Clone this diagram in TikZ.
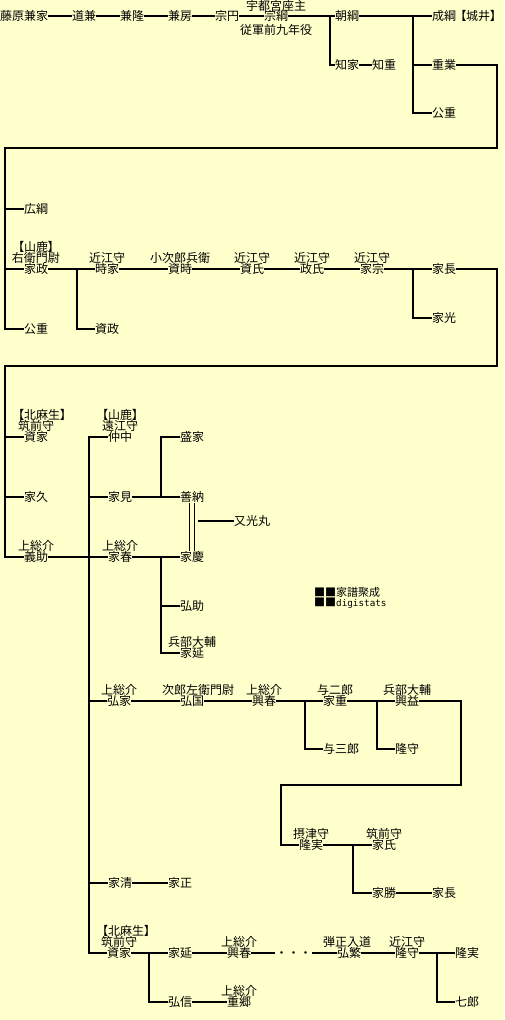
\documentclass[tikz,border=0pt]{standalone}
\usepackage{fontspec}
\newfontfamily\jp{Noto Sans CJK JP}
\newfontfamily\jpp{Noto Sans CJK JP}[RawFeature=+palt]
\newfontfamily\monof{DejaVu Sans Mono}
\definecolor{bgyellow}{HTML}{FFFFCC}
\begin{document}
\begin{tikzpicture}[x=1pt,y=-1pt,
  nm/.style={anchor=west, inner sep=0pt, font=\jp\fontsize{12pt}{12pt}\selectfont, text height=10.56pt, text depth=1.44pt},
  ttl/.style={inner sep=0pt, font=\jp\fontsize{12pt}{12pt}\selectfont, text height=10.56pt, text depth=1.44pt},
  ttlw/.style={ttl, anchor=west},
  brk/.style={ttlw, font=\jpp\fontsize{12pt}{12pt}\selectfont},
  ln/.style={line width=2pt},
  thinln/.style={line width=1pt}]
\useasboundingbox (0,0) rectangle (504,1020);
\fill[bgyellow] (0,0) rectangle (504,1020);

% ---------- row 1
\node[nm] (a1) at (0,16) {藤原兼家};
\node[nm] (a2) at (72,16) {道兼};
\node[nm] (a3) at (120,16) {兼隆};
\node[nm] (a4) at (168,16) {兼房};
\node[nm] (a5) at (215,16) {宗円};
\node[nm] (a6) at (264,16) {宗綱};
\node[ttl] (a6t) at (276,5.5) {宇都宮座主};
\node[ttl] (a6b) at (276,29.5) {従軍前九年役};
\node[nm] (a7) at (335,16) {朝綱};
\node[nm] (a8) at (335,65) {知家};
\node[nm] (a9) at (372,65) {知重};
\node[nm, font=\jpp\fontsize{12pt}{12pt}\selectfont] (a10) at (432,16) {成綱\hspace{4pt}【城井】};
\node[nm] (a11) at (432,65) {重業};
\node[nm] (a12) at (432,113) {公重};

\draw[ln] (a1.east) -- (a2.west);
\draw[ln] (a2.east) -- (a3.west);
\draw[ln] (a3.east) -- (a4.west);
\draw[ln] (a4.east) -- (a5.west);
\draw[ln] (a5.east) -- (a6.west);
\draw[ln] (a6.east) -- (a7.west);
\draw[ln] (a7.east) -- (a10.west);
\coordinate (j1) at (330,16);
\draw[ln] (j1) |- (a8.west);
\draw[ln] (a8.east) -- (a9.west);
\coordinate (j2) at (413,16);
\draw[ln] (j2) |- (a11.west);
\draw[ln] (j2) |- (a12.west);

% ---------- row 2
\node[nm] (b1) at (24,209) {広綱};
\node[nm] (b2) at (24,269) {家政};
\node[ttl] at (36,258) {右衛門尉};
\node[ttl, font=\jpp\fontsize{12pt}{12pt}\selectfont] at (36,247) {【山鹿】};
\node[nm] (b3) at (24,329) {公重};
\node[nm] (b4) at (95,269) {時家};
\node[ttl] at (107,258) {近江守};
\node[nm] (b5) at (95,329) {資政};
\node[nm] (b6) at (168,269) {資時};
\node[ttl] at (180,258) {小次郎兵衛};
\node[nm] (b7) at (240,269) {資氏};
\node[ttl] at (252,258) {近江守};
\node[nm] (b8) at (300,269) {政氏};
\node[ttl] at (312,258) {近江守};
\node[nm] (b9) at (360,269) {家宗};
\node[ttl] at (372,258) {近江守};
\node[nm] (b10) at (432,269) {家長};
\node[nm] (b11) at (432,318) {家光};

\coordinate (r1) at (497,148);
\coordinate (l1) at (5,148);
\draw[ln] (a11.east) -| (r1) -- (l1) |- (b3.west);
\draw[ln] (5,209) -- (b1.west);
\draw[ln] (5,269) -- (b2.west);
\draw[ln] (b2.east) -- (b4.west);
\coordinate (j3) at (77,269);
\draw[ln] (j3) |- (b5.west);
\draw[ln] (b4.east) -- (b6.west);
\draw[ln] (b6.east) -- (b7.west);
\draw[ln] (b7.east) -- (b8.west);
\draw[ln] (b8.east) -- (b9.west);
\draw[ln] (b9.east) -- (b10.west);
\coordinate (j4) at (413,269);
\draw[ln] (j4) |- (b11.west);

% ---------- row 3
\node[nm] (c1) at (24,437) {資家};
\node[ttl] at (36,426) {筑前守};
\node[brk] at (18,415) {【北麻生】};
\node[nm] (c2) at (24,497) {家久};
\node[nm] (c3) at (24,557) {義助};
\node[ttl] at (36,546) {上総介};
\node[nm] (c4) at (108,437) {仲中};
\node[ttl] at (120,426) {遠江守};
\node[brk] at (102,415) {【山鹿】};
\node[nm] (c5) at (108,497) {家見};
\node[nm] (c6) at (108,557) {家春};
\node[ttl] at (120,546) {上総介};
\node[nm] (c7) at (180,437) {盛家};
\node[nm] (c8) at (180,497) {善納};
\node[nm] (c9) at (180,557) {家慶};
\node[nm] (c10) at (234,521) {又光丸};
\node[nm] (c11) at (180,606) {弘助};
\node[nm] (c12) at (180,653) {家延};
\node[ttl] at (192,642) {兵部大輔};

\coordinate (r2) at (497,366);
\coordinate (l2) at (5,366);
\draw[ln] (b10.east) -| (r2) -- (l2) |- (c3.west);
\draw[ln] (5,437) -- (c1.west);
\draw[ln] (5,497) -- (c2.west);
\draw[ln] (c3.east) -- (c6.west);
\draw[ln] (89,497) -- (c5.west);
\draw[ln] (c5.east) -- (c8.west);
\coordinate (j5) at (161,497);
\draw[ln] (j5) |- (c7.west);
\draw[ln] (c6.east) -- (c9.west);
\coordinate (j6) at (161,557);
\draw[ln] (j6) |- (c12.west);
\draw[ln] (161,606) -- (c11.west);
\draw[thinln] ([xshift=-2.5pt]c8.south) -- ([xshift=-2.5pt]c9.north);
\draw[thinln] ([xshift=2.5pt]c8.south) -- ([xshift=2.5pt]c9.north);
\coordinate (m1) at (198,521);
\draw[ln] (m1) -- (c10.west);

% ---------- row d
\node[nm] (d1) at (107,701) {弘家};
\node[ttl] at (119,690) {上総介};
\node[nm] (d2) at (180,701) {弘国};
\node[ttlw] at (162,690) {次郎左衛門尉};
\node[nm] (d3) at (252,701) {興春};
\node[ttl] at (264,690) {上総介};
\node[nm] (d4) at (323,701) {家重};
\node[ttl] at (335,690) {与二郎};
\node[nm] (d5) at (323,749) {与三郎};
\node[nm] (d6) at (395,701) {興益};
\node[ttl] at (407,690) {兵部大輔};
\node[nm] (d7) at (395,749) {隆守};

\draw[ln] (89,701) -- (d1.west);
\draw[ln] (d1.east) -- (d2.west);
\draw[ln] (d2.east) -- (d3.west);
\draw[ln] (d3.east) -- (d4.west);
\draw[ln] (d4.east) -- (d6.west);
\coordinate (j7) at (305,701);
\draw[ln] (j7) |- (d5.west);
\coordinate (j8) at (377,701);
\draw[ln] (j8) |- (d7.west);

% ---------- row g
\node[nm] (g1) at (299,845) {隆実};
\node[ttl] at (311,834) {摂津守};
\node[nm] (g2) at (372,845) {家氏};
\node[ttl] at (384,834) {筑前守};
\node[nm] (g3) at (372,893) {家勝};
\node[nm] (g4) at (432,893) {家長};

\coordinate (r3) at (461,785);
\coordinate (l3) at (281,785);
\draw[ln] (d6.east) -| (r3) -- (l3) |- (g1.west);
\draw[ln] (g1.east) -- (g2.west);
\coordinate (j9) at (353,845);
\draw[ln] (j9) |- (g3.west);
\draw[ln] (g3.east) -- (g4.west);

% ---------- row f
\node[nm] (f1) at (108,883) {家清};
\node[nm] (f2) at (168,883) {家正};
\draw[ln] (89,883) -- (f1.west);
\draw[ln] (f1.east) -- (f2.west);

% ---------- row e
\node[nm] (e1) at (107,953) {資家};
\node[ttl] at (119,942) {筑前守};
\node[brk] at (102,931) {【北麻生】};
\node[nm] (e2) at (168,953) {家延};
\node[nm] (e3) at (227,953) {興春};
\node[ttl] at (239,942) {上総介};
\node[ttl] (e4) at (293.5,953) {・・・};
\node[nm] (e5) at (337,953) {弘繁};
\node[ttlw] at (323,942) {弾正入道};
\node[nm] (e6) at (395,953) {隆守};
\node[ttl] at (407,942) {近江守};
\node[nm] (e7) at (455,953) {隆実};
\node[nm] (e8) at (455,1002) {七郎};
\node[nm] (e9) at (168,1002) {弘信};
\node[nm] (e10) at (227,1002) {重郷};
\node[ttl] at (239,991) {上総介};

\coordinate (v2) at (89,953);
\draw[ln] (c4.west) -| (v2) -- (e1.west);
\draw[ln] (e1.east) -- (e2.west);
\coordinate (j10) at (149,953);
\draw[ln] (j10) |- (e9.west);
\draw[ln] (e2.east) -- (e3.west);
\draw[ln] (e3.east) -- (e4.west);
\draw[ln] (e4.east) -- (e5.west);
\draw[ln] (e5.east) -- (e6.west);
\draw[ln] (e6.east) -- (e7.west);
\coordinate (j11) at (437,953);
\draw[ln] (j11) |- (e8.west);
\draw[ln] (e9.east) -- (e10.west);

% ---------- logo
\node[ttlw, font=\jp\fontsize{11pt}{11pt}\selectfont] (logo1) at (314,591.5) {■■家譜聚成};
\node[ttlw, font=\jp\fontsize{11pt}{11pt}\selectfont] (logo2) at (314,602) {■■{\monof\fontsize{9.3pt}{9.3pt}\selectfont digistats}};
\end{tikzpicture}
\end{document}
